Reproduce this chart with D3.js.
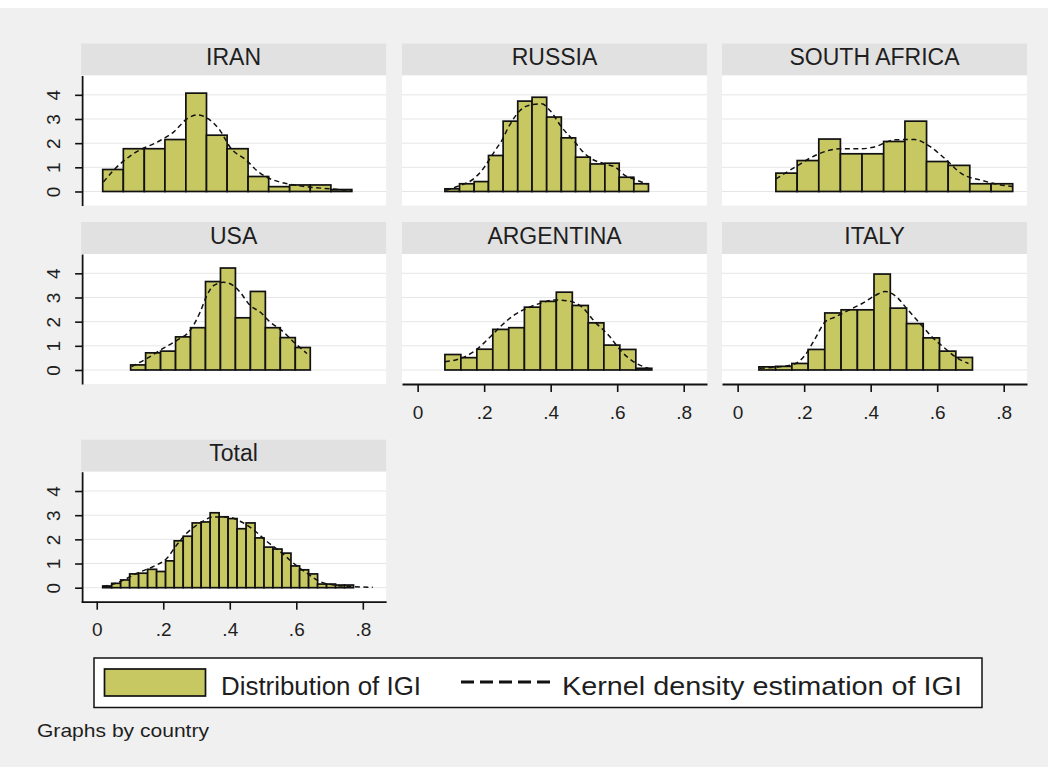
<!DOCTYPE html>
<html><head><meta charset="utf-8">
<script src="https://cdn.jsdelivr.net/npm/d3@7"></script>
<style>
body{margin:0;background:#f0f0f0}
text{font-family:"Liberation Sans",Arial,sans-serif;fill:#1e1e1e}
</style>
</head><body><svg id="c" width="1048" height="767"></svg>
<script>
// ---------- data ----------
const xTicks = [0, 0.2, 0.4, 0.6, 0.8];
const yTicks = [0, 1, 2, 3, 4];

const iranEdges   = [0.018,0.080,0.143,0.205,0.268,0.330,0.392,0.455,0.517,0.580,0.642,0.704,0.767];
const iranHeights = [0.91,1.77,1.77,2.15,4.07,2.33,1.77,0.62,0.20,0.27,0.27,0.08];
const iranKdeX = [0.020,0.050,0.110,0.191,0.231,0.271,0.301,0.336,0.371,0.401,0.451,0.481,0.511,0.551,0.602,0.642,0.702,0.767];
const iranKdeY = [0.39,0.87,1.56,2.11,2.46,3.00,3.17,3.00,2.52,1.83,1.28,0.87,0.59,0.39,0.25,0.18,0.11,0.04];

const russiaEdges   = [0.082,0.126,0.170,0.213,0.257,0.301,0.344,0.388,0.432,0.475,0.519,0.563,0.606,0.650,0.694];
const russiaHeights = [0.11,0.32,0.41,1.49,2.91,3.74,3.90,3.08,2.22,1.42,1.14,1.17,0.59,0.32];
const russiaKdeX = [0.085,0.128,0.168,0.193,0.233,0.253,0.273,0.308,0.333,0.373,0.398,0.433,0.473,0.493,0.523,0.563,0.594,0.624,0.649,0.690];
const russiaKdeY = [0.05,0.25,0.52,0.87,1.70,2.11,2.66,3.35,3.56,3.63,3.35,2.66,2.04,1.70,1.35,1.14,1.01,0.66,0.52,0.30];

const safricaEdges   = [0.115,0.179,0.244,0.309,0.374,0.439,0.503,0.568,0.633,0.698,0.762,0.827];
const safricaHeights = [0.76,1.28,2.17,1.56,1.56,2.07,2.91,1.24,1.08,0.32,0.32];
const safricaKdeX = [0.115,0.173,0.233,0.308,0.373,0.408,0.473,0.533,0.574,0.624,0.674,0.734,0.784,0.827];
const safricaKdeY = [0.52,1.01,1.49,1.77,1.77,1.83,2.14,2.15,1.90,1.35,0.73,0.46,0.29,0.21];

const usaEdges   = [0.102,0.147,0.192,0.237,0.282,0.327,0.372,0.417,0.462,0.507,0.552,0.597,0.642];
const usaHeights = [0.21,0.71,0.78,1.37,1.75,3.66,4.22,2.16,3.25,1.75,1.34,0.93];
const usaKdeX = [0.105,0.151,0.191,0.241,0.281,0.311,0.331,0.351,0.381,0.411,0.431,0.461,0.491,0.521,0.561,0.592,0.632];
const usaKdeY = [0.14,0.48,0.82,1.23,1.64,2.40,3.08,3.49,3.63,3.49,3.22,2.67,2.40,1.99,1.58,1.16,0.68];

const argEdges   = [0.082,0.130,0.178,0.226,0.274,0.321,0.369,0.417,0.465,0.513,0.560,0.608,0.656,0.704];
const argHeights = [0.64,0.51,0.86,1.68,1.75,2.60,2.84,3.22,2.67,1.95,1.03,0.85,0.07];
const argKdeX = [0.082,0.133,0.173,0.213,0.253,0.293,0.333,0.373,0.413,0.453,0.493,0.533,0.574,0.614,0.654,0.694];
const argKdeY = [0.34,0.50,0.80,1.30,1.85,2.30,2.58,2.78,2.90,2.86,2.62,1.99,1.44,0.75,0.30,0.07];

const italyEdges   = [0.064,0.114,0.163,0.212,0.262,0.311,0.360,0.410,0.459,0.508,0.558,0.607,0.656,0.706];
const italyHeights = [0.13,0.15,0.27,0.85,2.36,2.49,2.49,3.97,2.56,1.92,1.33,0.78,0.52];
const italyKdeX = [0.067,0.163,0.203,0.233,0.263,0.293,0.333,0.373,0.413,0.443,0.473,0.513,0.553,0.584,0.624,0.654,0.694];
const italyKdeY = [0.07,0.21,0.62,1.30,1.99,2.19,2.47,2.74,3.08,3.25,3.08,2.47,1.85,1.37,0.89,0.55,0.27];

const totalEdges   = [0.018,0.045,0.072,0.099,0.126,0.153,0.180,0.207,0.233,0.260,0.287,0.314,0.341,0.368,0.395,
                      0.422,0.449,0.476,0.503,0.530,0.557,0.584,0.610,0.637,0.664,0.691,0.718,0.745,0.772];
const totalHeights = [0.07,0.18,0.32,0.57,0.60,0.76,0.67,1.11,1.94,2.13,2.68,2.72,3.10,2.93,
                      2.86,2.44,2.68,2.06,1.68,1.60,1.43,0.90,0.74,0.57,0.15,0.15,0.11,0.11];
const totalKdeX = [0.018,0.070,0.121,0.171,0.211,0.241,0.271,0.311,0.351,0.391,0.431,0.471,0.511,0.551,0.592,0.632,0.672,0.712,0.772,0.830];
const totalKdeY = [0.04,0.25,0.60,0.88,1.22,1.78,2.26,2.68,2.93,2.93,2.75,2.40,1.92,1.50,1.01,0.60,0.25,0.11,0.04,0.02];

const legendLabels = ["Distribution of IGI", "Kernel density estimation of IGI"];
const noteText = "Graphs by country";

// ---------- layout ----------
const panels = [
  {name:"IRAN",         e:iranEdges,    h:iranHeights,    kx:iranKdeX,    ky:iranKdeY,    col:0,row:0,yAx:true, xAx:false},
  {name:"RUSSIA",       e:russiaEdges,  h:russiaHeights,  kx:russiaKdeX,  ky:russiaKdeY,  col:1,row:0,yAx:false,xAx:false},
  {name:"SOUTH AFRICA", e:safricaEdges, h:safricaHeights, kx:safricaKdeX, ky:safricaKdeY, col:2,row:0,yAx:false,xAx:false},
  {name:"USA",          e:usaEdges,     h:usaHeights,     kx:usaKdeX,     ky:usaKdeY,     col:0,row:1,yAx:true, xAx:false},
  {name:"ARGENTINA",    e:argEdges,     h:argHeights,     kx:argKdeX,     ky:argKdeY,     col:1,row:1,yAx:false,xAx:true},
  {name:"ITALY",        e:italyEdges,   h:italyHeights,   kx:italyKdeX,   ky:italyKdeY,   col:2,row:1,yAx:false,xAx:true},
  {name:"Total",        e:totalEdges,   h:totalHeights,   kx:totalKdeX,   ky:totalKdeY,   col:0,row:2,yAx:true, xAx:true}
];
const colLeft = [81.1, 402, 722];
const rowBottom = [205.5, 384, 601.7];
const W = 305, H = 130, HH = 32;
const barFill = "#c8c863";

const svg = d3.select("#c");
svg.append("rect").attr("width",1048).attr("height",767).attr("fill","#f0f0f0");
svg.append("rect").attr("width",1048).attr("height",8).attr("fill","#ffffff");

const fmt = d => d === 0 ? "0" : d3.format(".1f")(d).replace(/^0/, "");

panels.forEach(p => {
  const L = colLeft[p.col], B = rowBottom[p.row];
  const x = d3.scaleLinear().domain([-0.047, 0.87]).range([L, L + W]);
  const y = d3.scaleLinear().domain([-0.58, 4.8]).range([B, B - H]);
  const g = svg.append("g");

  g.append("rect").attr("x", L).attr("y", B - H - HH).attr("width", W).attr("height", HH).attr("fill", "#e1e1e1");
  g.append("text").attr("x", L + W / 2).attr("y", B - H - HH + 21.5)
    .attr("text-anchor", "middle").style("font-size", "23px").text(p.name);

  g.append("rect").attr("x", L).attr("y", B - H).attr("width", W).attr("height", H).attr("fill", "#ffffff");

  g.selectAll("line.grid").data(yTicks).join("line").attr("class","grid")
    .attr("x1", L).attr("x2", L + W).attr("y1", d => y(d)).attr("y2", d => y(d))
    .attr("stroke", "#e6e6e6").attr("stroke-width", 1);

  const bins = p.h.map((v, i) => ({x0: p.e[i], x1: p.e[i + 1], v}));
  g.selectAll("rect.bar").data(bins).join("rect").attr("class","bar")
    .attr("x", d => x(d.x0)).attr("width", d => x(d.x1) - x(d.x0))
    .attr("y", d => y(d.v)).attr("height", d => y(0) - y(d.v))
    .attr("fill", barFill).attr("stroke", "#111").attr("stroke-width", 1.7);

  const pts = p.kx.map((v, i) => [v, p.ky[i]]);
  g.append("path").datum(pts)
    .attr("d", d3.line().x(d => x(d[0])).y(d => y(d[1])).curve(d3.curveMonotoneX))
    .attr("fill", "none").attr("stroke", "#111").attr("stroke-width", 1.5)
    .attr("stroke-dasharray", "5,3.5");

  if (p.yAx) {
    const ay = g.append("g").attr("transform", `translate(${L + 1},0)`)
      .call(d3.axisLeft(y).tickValues(yTicks).tickSize(7).tickSizeOuter(0).tickFormat(d3.format("d")));
    ay.select(".domain").attr("stroke", "#111").attr("stroke-width", 1.8);
    ay.selectAll(".tick line").attr("stroke", "#111").attr("stroke-width", 1.6);
    ay.selectAll(".tick text")
      .attr("transform", "rotate(-90)").attr("x", 0).attr("y", -28.5).attr("dy", null)
      .attr("text-anchor", "middle").attr("dominant-baseline", "central")
      .style("font-size", "19px").style("font-family", "'Liberation Sans',Arial,sans-serif").attr("fill", "#1e1e1e");
  }
  if (p.xAx) {
    const ax = g.append("g").attr("transform", `translate(0,${B})`)
      .call(d3.axisBottom(x).tickValues(xTicks).tickSize(8).tickSizeOuter(0).tickFormat(fmt));
    ax.select(".domain").attr("stroke", "#111").attr("stroke-width", 1.8);
    ax.selectAll(".tick line").attr("stroke", "#111").attr("stroke-width", 1.6);
    ax.selectAll(".tick text").attr("y", 28).attr("dy", null).attr("dominant-baseline", "central")
      .style("font-size", "19px").style("font-family", "'Liberation Sans',Arial,sans-serif").attr("fill", "#1e1e1e");
  }
});

// ---------- legend ----------
const lg = svg.append("g");
lg.append("rect").attr("x", 94).attr("y", 658).attr("width", 888).attr("height", 49.5)
  .attr("fill", "#ffffff").attr("stroke", "#111").attr("stroke-width", 1.5);
lg.append("rect").attr("x", 104.5).attr("y", 669).attr("width", 101).attr("height", 27)
  .attr("fill", barFill).attr("stroke", "#111").attr("stroke-width", 1.7);
lg.append("text").attr("x", 221).attr("y", 694.5).style("font-size", "26px")
  .attr("textLength", 200).attr("lengthAdjust", "spacingAndGlyphs").text(legendLabels[0]);
lg.append("line").attr("x1", 461).attr("x2", 556).attr("y1", 682).attr("y2", 682)
  .attr("stroke", "#111").attr("stroke-width", 3).attr("stroke-dasharray", "13,6");
lg.append("text").attr("x", 562).attr("y", 694.5).style("font-size", "26px")
  .attr("textLength", 400).attr("lengthAdjust", "spacingAndGlyphs").text(legendLabels[1]);

svg.append("text").attr("x", 37).attr("y", 737).style("font-size", "19px")
  .attr("textLength", 172).attr("lengthAdjust", "spacingAndGlyphs").text(noteText);
</script></body></html>
